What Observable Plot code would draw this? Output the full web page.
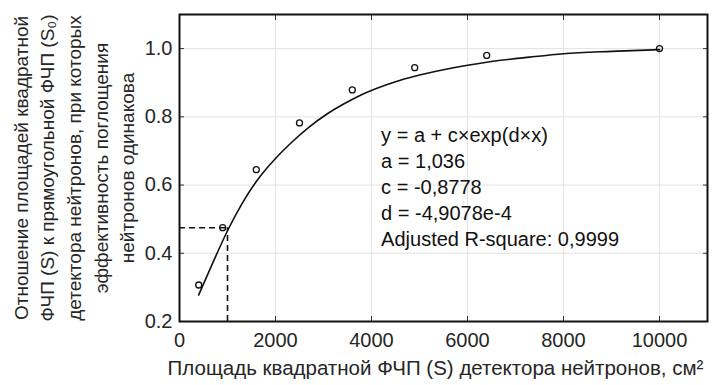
<!DOCTYPE html>
<html>
<head>
<meta charset="utf-8">
<script src="https://cdn.jsdelivr.net/npm/d3@7"></script>
<script src="https://cdn.jsdelivr.net/npm/@observablehq/plot@0.6"></script>
<style>
  html, body { margin: 0; padding: 0; background: #fff; }
</style>
</head>
<body>
<div id="chart"></div>
<script>
// Measured points: area of square FCP (S), cm² vs ratio S/S0
const pointX = [400, 900, 1600, 2500, 3600, 4900, 6400, 10000];
const pointY = [0.307, 0.475, 0.645, 0.782, 0.879, 0.944, 0.980, 1.000];

// Fitted curve
const fitX = [400, 700, 1000, 1300, 1650, 2000, 2350, 2700, 3050, 3400, 3750, 4100, 4500, 4900, 5500, 6000, 6400, 7300, 8000, 9000, 10000];
const fitY = [0.278, 0.374, 0.466, 0.545, 0.620, 0.678, 0.727, 0.770, 0.806, 0.836, 0.862, 0.883, 0.903, 0.919, 0.938, 0.951, 0.960, 0.975, 0.985, 0.992, 0.997];

// Reference (dashed) point
const refX = [1000];
const refY = [0.475];

// Axes
const xTicks = [0, 2000, 4000, 6000, 8000, 10000];
const yTicks = [0.2, 0.4, 0.6, 0.8, 1.0];
const xDomain = [0, 11000];
const yDomain = [0.2, 1.1];

// Texts
const annotationLines = [
  "y = a + c×exp(d×x)",
  "a = 1,036",
  "c = -0,8778",
  "d = -4,9078e-4",
  "Adjusted R-square: 0,9999"
];
const annotationPos = [{x: 4200, y: 0.597}];
const yLabelLines = [
  "Отношение площадей квадратной",
  "ФЧП (S) к прямоугольной ФЧП (S₀)",
  "детектора нейтронов, при которых",
  "эффективность поглощения",
  "нейтронов одинакова"
];
const xLabel = "Площадь квадратной ФЧП (S) детектора нейтронов, см²";

const points = pointX.map((x, i) => ({x, y: pointY[i]}));
const fit = fitX.map((x, i) => ({x, y: fitY[i]}));
const ref = refX.map((x, i) => ({x, y: refY[i]}));

const chart = Plot.plot({
  width: 715,
  height: 385,
  marginLeft: 179,
  marginRight: 8,
  marginTop: 14,
  marginBottom: 64,
  style: {fontFamily: "'Liberation Sans', Arial, sans-serif", fontSize: "19px", color: "#262626", background: "#fff"},
  x: {domain: xDomain},
  y: {domain: yDomain},
  marks: [
    Plot.gridX(xTicks, {stroke: "#e2e2e2", strokeOpacity: 1, strokeWidth: 1}),
    Plot.gridY(yTicks, {stroke: "#e2e2e2", strokeOpacity: 1, strokeWidth: 1}),
    Plot.axisX(xTicks, {anchor: "bottom", tickSize: 0, tickPadding: 11, tickFormat: d3.format("d"), label: null, fontSize: 20}),
    Plot.axisY(yTicks, {anchor: "left", tickSize: 0, tickPadding: 7, tickFormat: d3.format(".1f"), label: null, fontSize: 20}),
    Plot.axisX(xTicks, {anchor: "bottom", tickSize: -5, tickFormat: () => "", label: null, stroke: "#333"}),
    Plot.axisX(xTicks, {anchor: "top", tickSize: -5, tickFormat: () => "", label: null, stroke: "#333"}),
    Plot.axisY(yTicks, {anchor: "left", tickSize: -5, tickFormat: () => "", label: null, stroke: "#333"}),
    Plot.axisY(yTicks, {anchor: "right", tickSize: -5, tickFormat: () => "", label: null, stroke: "#333"}),
    // dashed reference lines
    Plot.ruleY(ref, {x1: xDomain[0], x2: "x", y: "y", stroke: "#111", strokeWidth: 1.6, strokeDasharray: "6,4"}),
    Plot.ruleX(ref, {x: "x", y1: yDomain[0], y2: "y", stroke: "#111", strokeWidth: 1.6, strokeDasharray: "6,4"}),
    // fit curve
    Plot.line(fit, {x: "x", y: "y", stroke: "#111", strokeWidth: 1.6, curve: "monotone-x"}),
    // points
    Plot.dot(points, {x: "x", y: "y", r: 3, stroke: "#111", strokeWidth: 1.3, fill: "none"}),
    // annotation
    Plot.text(annotationPos, {x: "x", y: "y", text: () => annotationLines.join("\n"), textAnchor: "start", lineAnchor: "middle", lineHeight: 1.3, fontSize: 20, fill: "#111"}),
    // y label
    Plot.text([yLabelLines.join("\n")], {frameAnchor: "left", dx: -107, rotate: -90, textAnchor: "middle", lineAnchor: "middle", lineHeight: 1.4, fontSize: 19, fill: "#262626"}),
    // x label
    Plot.text([xLabel], {frameAnchor: "bottom", dx: -8, dy: 47, textAnchor: "middle", lineAnchor: "middle", fontSize: 20.5, fill: "#262626"}),
    Plot.frame({stroke: "#111", strokeWidth: 2})
  ]
});
document.getElementById("chart").appendChild(chart);
</script>
</body>
</html>
